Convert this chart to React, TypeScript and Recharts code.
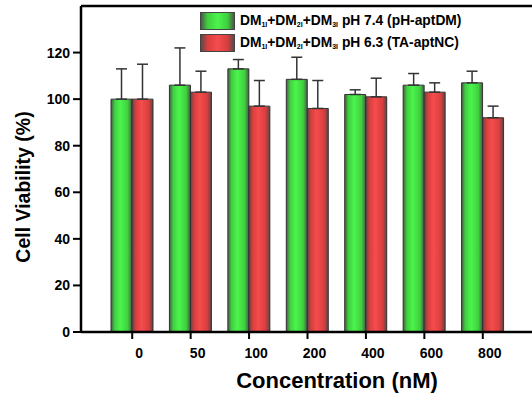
import { BarChart, Bar, XAxis, YAxis, ErrorBar, Legend, ReferenceLine } from 'recharts';

const concentrations = ['0', '50', '100', '200', '400', '600', '800'];
const phNeutral = [100, 106, 113, 108.5, 102, 106, 107];
const phNeutralErr = [13, 16, 4, 9.5, 2, 5, 5];
const phAcid = [100, 103, 97, 96, 101, 103, 92];
const phAcidErr = [15, 9, 11, 12, 8, 4, 5];
const yTicks = [0, 20, 40, 60, 80, 100, 120];

const data = concentrations.map((c, i) => ({
  conc: c,
  neutral: phNeutral[i],
  neutralErr: [0, phNeutralErr[i]],
  acid: phAcid[i],
  acidErr: [0, phAcidErr[i]],
}));

const FONT = '"Liberation Sans", Arial, sans-serif';

const legendItems = [
  { ph: 'pH 7.4 (pH-aptDM)', bg: 'linear-gradient(to right, #4a5a4a 0%, #3fd03f 20%, #4cf44c 50%, #3fd03f 80%, #4a5a4a 100%)' },
  { ph: 'pH 6.3 (TA-aptNC)', bg: 'linear-gradient(to right, #5a4a4a 0%, #d83e3e 20%, #f54c4c 50%, #d83e3e 80%, #5a4a4a 100%)' },
];

function Sub({ t }: { t: string }) {
  return <sub style={{ fontSize: 7, verticalAlign: -2 }}>{t}</sub>;
}

function LegendBox() {
  return (
    <div style={{ fontFamily: FONT, fontWeight: 'bold', fontSize: 13.8, color: '#000' }}>
      {legendItems.map((it) => (
        <div key={it.ph} style={{ display: 'flex', alignItems: 'center', height: 21, marginBottom: 1 }}>
          <div style={{ width: 33, height: 16, background: it.bg, border: '1px solid #444', marginRight: 5 }} />
          <span style={{ whiteSpace: 'nowrap' }}>
            DM<Sub t="1I" />+DM<Sub t="2I" />+DM<Sub t="3I" /> {it.ph}
          </span>
        </div>
      ))}
    </div>
  );
}

function XTick(props: any) {
  const { x, y, payload } = props;
  return (
    <text x={x + 7} y={y} dy="0.71em" textAnchor="middle" fontFamily={FONT} fontWeight="bold" fontSize={14} fill="#000">
      {payload.value}
    </text>
  );
}

export default function App() {
  return (
    <div style={{ position: 'absolute', left: 0, top: 0, background: '#fff' }}>
      <BarChart
        width={532}
        height={398}
        data={data}
        margin={{ top: 6, right: 0, bottom: 0, left: 0 }}
        barGap={0}
      >
        <defs>
          <linearGradient id="gGreen" x1="0" y1="0" x2="1" y2="0">
            <stop offset="0%" stopColor="#4a5a4a" />
            <stop offset="18%" stopColor="#3fd03f" />
            <stop offset="45%" stopColor="#4cf44c" />
            <stop offset="80%" stopColor="#3fd03f" />
            <stop offset="100%" stopColor="#4a5a4a" />
          </linearGradient>
          <linearGradient id="gRed" x1="0" y1="0" x2="1" y2="0">
            <stop offset="0%" stopColor="#5a4646" />
            <stop offset="18%" stopColor="#d83e3e" />
            <stop offset="45%" stopColor="#f54c4c" />
            <stop offset="80%" stopColor="#d83e3e" />
            <stop offset="100%" stopColor="#5a4646" />
          </linearGradient>
        </defs>
        <XAxis
          dataKey="conc"
          height={66}
          stroke="#000"
          padding={{ left: 22, right: 20 }}
          axisLine={{ stroke: '#000', strokeWidth: 2.5 }}
          tickLine={{ stroke: '#000', strokeWidth: 2 }}
          tickSize={7}
          tickMargin={9}
          tick={<XTick />}
          interval={0}
          label={{
            content: () => (
              <text x={337} y={388} textAnchor="middle" fontFamily={FONT} fontWeight="bold" fontSize={22} fill="#000">
                Concentration (nM)
              </text>
            ),
          }}
        />
        <YAxis
          width={81}
          stroke="#000"
          domain={[0, 140]}
          ticks={yTicks}
          axisLine={{ stroke: '#000', strokeWidth: 2.5 }}
          tickLine={{ stroke: '#000', strokeWidth: 2 }}
          tickSize={8}
          tickMargin={3}
          tick={{ fill: '#000', fontSize: 14, fontWeight: 'bold', fontFamily: FONT }}
          label={{
            content: () => (
              <text
                x={23}
                y={187}
                transform="rotate(-90, 23, 187)"
                textAnchor="middle"
                dominantBaseline="central"
                fontFamily={FONT}
                fontWeight="bold"
                fontSize={19.5}
                fill="#000"
              >
                Cell Viability (%)
              </text>
            ),
          }}
        />
        <ReferenceLine y={140} stroke="#000" strokeWidth={2.5} />
        <Legend
          layout="vertical"
          align="center"
          verticalAlign="middle"
          content={() => <LegendBox />}
          wrapperStyle={{ top: 10, left: 200, width: 330 }}
        />
        <Bar dataKey="neutral" barSize={21} fill="url(#gGreen)" stroke="#333" strokeWidth={1} isAnimationActive={false}>
          <ErrorBar dataKey="neutralErr" width={5.5} stroke="#333" strokeWidth={1.5} direction="y" />
        </Bar>
        <Bar dataKey="acid" barSize={21} fill="url(#gRed)" stroke="#333" strokeWidth={1} isAnimationActive={false}>
          <ErrorBar dataKey="acidErr" width={5.5} stroke="#333" strokeWidth={1.5} direction="y" />
        </Bar>
      </BarChart>
    </div>
  );
}
